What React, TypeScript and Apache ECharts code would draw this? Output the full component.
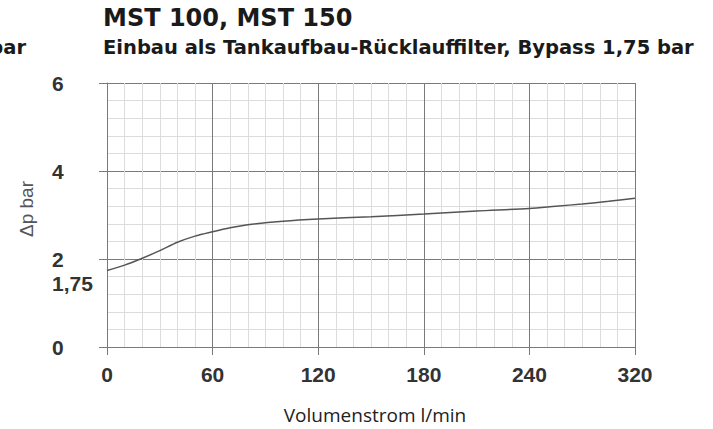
import React, { useEffect, useRef } from "react";
import * as echarts from "echarts";

// Flow tick values (l/min) – drawn equally spaced on the chart's x axis
const flowTicks = [0, 60, 120, 180, 240, 320];
const flowTickLabels = ["0", "60", "120", "180", "240", "320"];

// Curve: flow (l/min) and pressure drop (bar)
const flow = [0, 10, 19, 30, 40, 50, 60, 70, 80, 100, 120, 150, 180, 210, 240, 260, 280, 300, 320];
const dp = [1.74, 1.86, 2.0, 2.19, 2.38, 2.52, 2.62, 2.71, 2.78, 2.86, 2.91, 2.96, 3.02, 3.09, 3.15, 3.2, 3.25, 3.31, 3.38];

const yTicks = [0, 2, 4, 6];

const title = "MST 100, MST 150";
const subtitle = "Einbau als Tankaufbau-Rücklauffilter, Bypass 1,75 bar";
const xName = "Volumenstrom l/min";
const yName = "Δp bar";
const bypassLabel = "1,75";

// piecewise mapping of a flow value onto the equally spaced tick positions
function flowToPos(f: number): number {
  for (let i = 0; i < flowTicks.length - 1; i++) {
    const a = flowTicks[i];
    const b = flowTicks[i + 1];
    if (f <= b) return i + (f - a) / (b - a);
  }
  return flowTicks.length - 1;
}

export default function App() {
  const ref = useRef<HTMLDivElement>(null);
  useEffect(() => {
    if (!ref.current) return;
    const chart = echarts.init(ref.current, undefined, { renderer: "svg" });
    const major = "#7a7a7a";
    const minor = "#dcdcdc";
    const labelFont = "'Liberation Sans', Arial, sans-serif";
    const titleFont = "'DejaVu Sans', sans-serif";
    chart.setOption({
      animation: false,
      grid: { left: 107, right: 78, top: 83, bottom: 82, containLabel: false },
      xAxis: {
        type: "value",
        min: 0,
        max: flowTicks.length - 1,
        interval: 1,
        axisLine: { show: true, lineStyle: { color: major, width: 1 } },
        axisTick: { show: true, length: 8, lineStyle: { color: major, width: 1 } },
        axisLabel: {
          margin: 17,
          fontSize: 21,
          fontWeight: "bold",
          fontFamily: labelFont,
          color: "#333",
          formatter: (v: number) => flowTickLabels[Math.round(v)] ?? "",
        },
        splitLine: { show: true, lineStyle: { color: major, width: 1 } },
        minorTick: { show: false, splitNumber: 6 },
        minorSplitLine: { show: true, lineStyle: { color: minor, width: 1 } },
      },
      yAxis: {
        type: "value",
        min: yTicks[0],
        max: yTicks[yTicks.length - 1],
        interval: 2,
        axisLine: { show: true, lineStyle: { color: major, width: 1 } },
        axisTick: { show: true, length: 8, lineStyle: { color: major, width: 1 } },
        axisLabel: {
          align: "left",
          margin: 55,
          fontSize: 21,
          fontWeight: "bold",
          fontFamily: labelFont,
          color: "#333",
        },
        splitLine: { show: true, lineStyle: { color: major, width: 1 } },
        minorTick: { show: false, splitNumber: 5 },
        minorSplitLine: { show: true, lineStyle: { color: minor, width: 1 } },
      },
      series: [
        {
          type: "line",
          data: flow.map((f, i) => [flowToPos(f), dp[i]]),
          smooth: 0.3,
          showSymbol: false,
          lineStyle: { color: "#555", width: 1.5 },
        },
      ],
      graphic: [
        {
          type: "text",
          x: 103,
          y: 18,
          style: {
            text: title,
            fontSize: 24,
            fontWeight: "bold",
            fontFamily: titleFont,
            fill: "#1a1a1a",
            verticalAlign: "middle",
            align: "left",
          },
        },
        {
          type: "text",
          x: 103,
          y: 47.5,
          style: {
            text: subtitle,
            fontSize: 19.5,
            fontWeight: "bold",
            fontFamily: titleFont,
            fill: "#1a1a1a",
            verticalAlign: "middle",
            align: "left",
          },
        },
        {
          type: "text",
          x: 26,
          y: 47.5,
          style: {
            text: "bar",
            fontSize: 19.5,
            fontWeight: "bold",
            fontFamily: titleFont,
            fill: "#1a1a1a",
            verticalAlign: "middle",
            align: "right",
          },
        },
        {
          type: "text",
          x: 52,
          y: 283,
          style: {
            text: bypassLabel,
            fontSize: 21,
            fontWeight: "bold",
            fontFamily: labelFont,
            fill: "#333",
            verticalAlign: "middle",
            align: "left",
          },
        },
        {
          type: "text",
          x: 26,
          y: 209,
          rotation: Math.PI / 2,
          style: {
            text: yName,
            fontSize: 19,
            fontFamily: labelFont,
            fill: "#555",
            verticalAlign: "middle",
            align: "center",
          },
        },
        {
          type: "text",
          x: 375,
          y: 415,
          style: {
            text: xName,
            fontSize: 19,
            fontFamily: "'Open Sans', sans-serif",
            fill: "#222",
            verticalAlign: "middle",
            align: "center",
          },
        },
      ],
    });
    return () => chart.dispose();
  }, []);
  return (
    <div
      ref={ref}
      style={{ position: "absolute", left: 0, top: 0, width: 713, height: 429 }}
    />
  );
}
